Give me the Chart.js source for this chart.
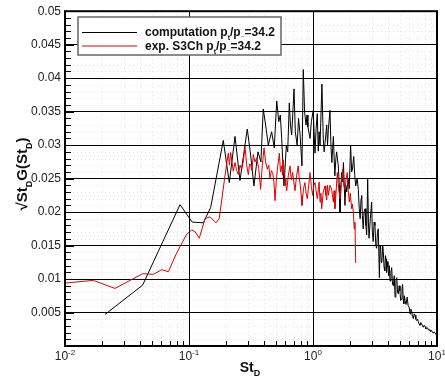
<!DOCTYPE html>
<html>
<head>
<meta charset="utf-8">
<script src="https://cdn.jsdelivr.net/npm/chart.js@4/dist/chart.umd.min.js"></script>
<style>
  html, body { margin: 0; padding: 0; background: #fff; }
  canvas { display: block; }
</style>
</head>
<body>
<canvas id="myChart" width="445" height="385"></canvas>
<script>
// computation, p_t/p_inf = 34.2
const compSt = [
    0.021, 0.0423, 0.0846, 0.1063, 0.1304, 0.1496, 0.189, 0.2113, 0.235, 0.2576,
    0.295, 0.312, 0.334, 0.36, 0.38, 0.397, 0.415, 0.436, 0.464, 0.487,
    0.510, 0.530, 0.545, 0.559, 0.583, 0.61, 0.625, 0.644, 0.658, 0.673,
    0.703, 0.72, 0.745, 0.765, 0.785, 0.815, 0.835, 0.855, 0.879, 0.895,
    0.91, 0.946, 0.97, 1.005, 1.02, 1.038, 1.06, 1.083, 1.103, 1.12,
    1.14, 1.18, 1.21, 1.23, 1.25, 1.29, 1.31, 1.33, 1.37, 1.395,
    1.42, 1.44, 1.46, 1.50, 1.53, 1.55, 1.60, 1.63, 1.65, 1.70,
    1.73, 1.76, 1.81, 1.84, 1.87, 1.92, 1.96, 2.01, 2.05, 2.08,
    2.13, 2.17, 2.21, 2.27, 2.32, 2.36, 2.40, 2.44, 2.47, 2.50,
    2.54, 2.58, 2.63, 2.67, 2.71, 2.76, 2.80, 2.83, 2.90, 2.97,
    3.01, 3.06, 3.11, 3.16, 3.21, 3.26, 3.31, 3.36, 3.43, 3.47,
    3.51, 3.55, 3.60, 3.65, 3.69, 3.74, 3.79, 3.84, 3.88, 3.92,
    3.96, 4.02, 4.07, 4.12, 4.18, 4.25, 4.31, 4.38, 4.45, 4.52,
    4.59, 4.66, 4.74, 4.81, 4.88, 4.95, 5.03, 5.09, 5.15, 5.22,
    5.28, 5.34, 5.40, 5.46, 5.52, 5.63, 5.75, 5.85, 5.96, 6.06,
    6.15, 6.25, 6.34, 6.44, 6.55, 6.65, 6.75, 6.86, 6.96, 7.07,
    7.18, 7.29, 7.40, 7.52, 7.64, 7.76, 7.88, 8.01, 8.13, 8.26,
    8.39, 8.52, 8.65, 8.79, 8.92, 9.06, 9.20, 9.34, 9.50, 9.64,
    9.80, 9.95];
const compVal = [
    0.0047, 0.0091, 0.0211, 0.0185, 0.0184, 0.0207, 0.0307, 0.0244, 0.0313, 0.0247,
    0.0324, 0.0290, 0.0239, 0.0290, 0.0275, 0.0354, 0.0330, 0.0300, 0.0320, 0.0296,
    0.0366, 0.0335, 0.0345, 0.0310, 0.0239, 0.0300, 0.0290, 0.0363, 0.0330, 0.0315,
    0.0384, 0.0320, 0.0300, 0.0340, 0.0318, 0.0269, 0.0413, 0.0350, 0.0330, 0.0345,
    0.0327, 0.0310, 0.0335, 0.0352, 0.0320, 0.0288, 0.0325, 0.0347, 0.0291, 0.0320,
    0.0300, 0.0391, 0.0310, 0.0290, 0.0303, 0.0330, 0.0300, 0.0323, 0.0352, 0.0300,
    0.0274, 0.0295, 0.0313, 0.0254, 0.0280, 0.0290, 0.0269, 0.0240, 0.0200, 0.0259,
    0.0245, 0.0274, 0.0210, 0.0240, 0.0230, 0.0249, 0.0235, 0.0300, 0.0260, 0.0264,
    0.0283, 0.0255, 0.0239, 0.0250, 0.0234, 0.0205, 0.0190, 0.0220, 0.0225, 0.0195,
    0.0175, 0.0200, 0.0205, 0.0180, 0.0166, 0.0249, 0.0185, 0.0161, 0.0190, 0.0215,
    0.0170, 0.0156, 0.0185, 0.0180, 0.0150, 0.0146, 0.0170, 0.0175, 0.0102, 0.0150,
    0.0146, 0.0125, 0.0128, 0.0150, 0.0141, 0.0118, 0.0112, 0.0135, 0.0130, 0.0110,
    0.0126, 0.0118, 0.0105, 0.0120, 0.0097, 0.0110, 0.0117, 0.0092, 0.0090, 0.0105,
    0.0073, 0.0098, 0.0102, 0.0080, 0.0078, 0.0090, 0.0082, 0.0068, 0.0070, 0.0085,
    0.0092, 0.0070, 0.0063, 0.0075, 0.0068, 0.0062, 0.0073, 0.0060, 0.0058, 0.0048,
    0.0055, 0.0052, 0.0044, 0.0041, 0.0048, 0.0046, 0.0040, 0.0038, 0.0040, 0.0036,
    0.0033, 0.0031, 0.0035, 0.0033, 0.0030, 0.0028, 0.0031, 0.0029, 0.0026, 0.0026,
    0.0027, 0.0024, 0.0025, 0.0022, 0.0024, 0.0023, 0.0020, 0.0020, 0.0021, 0.0019,
    0.0018, 0.0016];

// experiment S3Ch, p_t/p_inf = 34.2
const expSt = [
    0.01, 0.0169, 0.0253, 0.0423, 0.0515, 0.0603, 0.0681, 0.0796, 0.0958, 0.1051,
    0.1116, 0.121, 0.1346, 0.1478, 0.165, 0.1752, 0.195, 0.2075, 0.212, 0.2168,
    0.2275, 0.235, 0.242, 0.25, 0.258, 0.266, 0.274, 0.2828, 0.292, 0.301,
    0.308, 0.315, 0.322, 0.330, 0.340, 0.3516, 0.365, 0.378, 0.39, 0.403,
    0.415, 0.428, 0.44, 0.450, 0.462, 0.473, 0.484, 0.494, 0.505, 0.515,
    0.525, 0.535, 0.547, 0.559, 0.567, 0.575, 0.585, 0.595, 0.604, 0.614,
    0.633, 0.653, 0.668, 0.685, 0.70, 0.716, 0.738, 0.760, 0.775, 0.79,
    0.803, 0.815, 0.838, 0.861, 0.880, 0.900, 0.923, 0.946, 0.97, 0.994,
    1.015, 1.038, 1.06, 1.083, 1.104, 1.12, 1.14, 1.157, 1.175, 1.21,
    1.25, 1.27, 1.29, 1.31, 1.33, 1.37, 1.415, 1.44, 1.46, 1.48,
    1.504, 1.535, 1.57, 1.61, 1.651, 1.69, 1.737, 1.77, 1.81, 1.85,
    1.89, 1.925, 1.963, 2.00, 2.05, 2.08, 2.114, 2.15, 2.18, 2.21];
const expVal = [
    0.0094, 0.0098, 0.0086, 0.0108, 0.0107, 0.0114, 0.0111, 0.0139, 0.0167, 0.0173,
    0.0171, 0.0161, 0.0190, 0.0193, 0.0184, 0.0190, 0.0254, 0.0288, 0.0270, 0.0289,
    0.0261, 0.0274, 0.0262, 0.0256, 0.0270, 0.0264, 0.0275, 0.0298, 0.0270, 0.0256,
    0.0272, 0.0270, 0.0262, 0.0286, 0.0275, 0.0281, 0.0265, 0.0234, 0.0270, 0.0296,
    0.0275, 0.0264, 0.0270, 0.0251, 0.0262, 0.0259, 0.0245, 0.0217, 0.0245, 0.0262,
    0.0275, 0.0288, 0.0260, 0.0269, 0.0255, 0.0278, 0.0262, 0.0250, 0.0240, 0.0232,
    0.0255, 0.0269, 0.0248, 0.0259, 0.0245, 0.0232, 0.0255, 0.0269, 0.0250, 0.0240,
    0.0225, 0.0210, 0.0235, 0.0244, 0.0228, 0.0220, 0.0240, 0.0259, 0.0238, 0.0225,
    0.0240, 0.0244, 0.0232, 0.0220, 0.0234, 0.0245, 0.0215, 0.0228, 0.0205, 0.0230,
    0.0239, 0.0225, 0.0218, 0.0240, 0.0225, 0.0240, 0.0234, 0.0222, 0.0215, 0.0232,
    0.0205, 0.0230, 0.0259, 0.0235, 0.0220, 0.0245, 0.0264, 0.0240, 0.0234, 0.0250,
    0.0259, 0.0232, 0.0215, 0.0228, 0.0205, 0.0212, 0.0200, 0.0175, 0.0185, 0.0124];

const xDecades = [0.01, 0.1, 1, 10];
const xExponents = ['-2', '-1', '0', '1'];

const FONT = '"Liberation Sans", Arial, Helvetica, sans-serif';
const RED = 'rgb(220, 0, 0)';

function pairs(xs, ys) {
    return xs.map((x, i) => ({ x: x, y: ys[i] }));
}

// text runs: [text, isSub, drop]
function richWidth(ctx, parts, size) {
    let w = 0;
    parts.forEach(p => {
        ctx.font = 'bold ' + (p[1] ? Math.round(size * 0.62) : size) + 'px ' + FONT;
        w += ctx.measureText(p[0]).width;
    });
    return w;
}

function drawRich(ctx, parts, x, y, size) {
    let cx = x;
    parts.forEach(p => {
        ctx.font = 'bold ' + (p[1] ? Math.round(size * 0.62) : size) + 'px ' + FONT;
        const drop = p[1] ? (p[2] !== undefined ? p[2] : size * 0.3) : 0;
        ctx.fillText(p[0], cx, y + drop);
        cx += ctx.measureText(p[0]).width;
    });
}

const framePlugin = {
    id: 'frame',
    // faint dotted minor grid, under the solid major grid
    beforeDraw(chart) {
        const { ctx, chartArea: a, scales: { x, y } } = chart;
        ctx.save();
        ctx.strokeStyle = '#e2e2e2';
        ctx.lineWidth = 1;
        ctx.setLineDash([1, 3]);
        ctx.beginPath();
        for (let k = 1; k < 50; k++) {
            if (k % 5 === 0) continue;
            const py = Math.round(y.getPixelForValue(k / 1000)) + 0.5;
            ctx.moveTo(a.left, py);
            ctx.lineTo(a.right, py);
        }
        xDecades.slice(0, 3).forEach(d => {
            for (let m = 2; m < 10; m++) {
                const px = Math.round(x.getPixelForValue(d * m)) + 0.5;
                ctx.moveTo(px, a.top);
                ctx.lineTo(px, a.bottom);
            }
        });
        ctx.stroke();
        ctx.restore();
    },
    afterDraw(chart) {
        const { ctx, chartArea: a, scales: { x, y } } = chart;
        ctx.save();
        ctx.setLineDash([]);

        // inward tick marks
        ctx.strokeStyle = '#000';
        ctx.lineWidth = 1;
        ctx.beginPath();
        for (let k = 1; k < 50; k++) {
            const py = Math.round(y.getPixelForValue(k / 1000)) + 0.5;
            ctx.moveTo(a.left, py);
            ctx.lineTo(a.left + (k % 5 === 0 ? 9 : 6), py);
        }
        xDecades.forEach((d, i) => {
            const px = Math.round(x.getPixelForValue(d)) + 0.5;
            ctx.moveTo(px, a.bottom);
            ctx.lineTo(px, a.bottom - 8);
            if (i === xDecades.length - 1) return;
            for (let m = 2; m < 10; m++) {
                const mx = Math.round(x.getPixelForValue(d * m)) + 0.5;
                ctx.moveTo(mx, a.bottom);
                ctx.lineTo(mx, a.bottom - 5);
            }
        });
        ctx.stroke();

        // frame
        ctx.lineWidth = 2;
        ctx.strokeRect(a.left, a.top, a.right - a.left, a.bottom - a.top);

        // x tick labels 10^n
        ctx.fillStyle = '#222';
        ctx.textBaseline = 'alphabetic';
        ctx.textAlign = 'left';
        xDecades.forEach((d, i) => {
            ctx.font = '12px ' + FONT;
            const bw = ctx.measureText('10').width;
            ctx.font = '8px ' + FONT;
            const ew = ctx.measureText(xExponents[i]).width;
            const left = x.getPixelForValue(d) - (bw + ew) / 2;
            ctx.font = '12px ' + FONT;
            ctx.fillText('10', left, 360);
            ctx.font = '8px ' + FONT;
            ctx.fillText(xExponents[i], left + bw, 355);
        });

        // axis titles
        ctx.fillStyle = '#111';
        const xTitle = [['St', false], ['D', true]];
        const xw = richWidth(ctx, xTitle, 14);
        drawRich(ctx, xTitle, (a.left + a.right) / 2 - xw / 2 - 1, 372, 14);

        const yTitle = [['\u221ASt', false], ['D', true], ['G(St', false], ['D', true], [')', false]];
        ctx.save();
        ctx.translate(27, 174);
        ctx.rotate(-Math.PI / 2);
        const yw = richWidth(ctx, yTitle, 15);
        drawRich(ctx, yTitle, -yw / 2, 0, 15);
        ctx.restore();

        // legend box
        const lx = 78, ly = 17, lw = 203, lh = 38;
        ctx.fillStyle = '#fff';
        ctx.fillRect(lx, ly, lw, lh);
        ctx.strokeStyle = '#666';
        ctx.lineWidth = 1.5;
        ctx.strokeRect(lx, ly, lw, lh);

        ctx.lineWidth = 1;
        ctx.strokeStyle = '#000';
        ctx.beginPath();
        ctx.moveTo(82, 32.5);
        ctx.lineTo(137, 32.5);
        ctx.stroke();
        ctx.strokeStyle = 'rgb(226, 90, 90)';
        ctx.lineWidth = 1.5;
        ctx.beginPath();
        ctx.moveTo(82, 46);
        ctx.lineTo(137, 46);
        ctx.stroke();

        ctx.fillStyle = '#111';
        drawRich(ctx, [['computation p', false], ['t', true], ['/p', false], ['_', true, 0], ['=34.2', false]], 145, 36, 12);
        drawRich(ctx, [['exp. S3Ch p', false], ['t', true], ['/p', false], ['_', true, 0], ['=34.2', false]], 145, 50, 12);

        ctx.restore();
    }
};

const data = {
    datasets: [{
        label: 'exp. S3Ch',
        data: pairs(expSt, expVal),
        borderColor: RED,
        borderWidth: 1,
        pointRadius: 0,
        tension: 0,
        fill: false
    }, {
        label: 'computation',
        data: pairs(compSt, compVal),
        borderColor: '#000',
        borderWidth: 1,
        pointRadius: 0,
        tension: 0,
        fill: false
    }]
};

const config = {
    type: 'line',
    data: data,
    options: {
        responsive: false,
        devicePixelRatio: 1,
        animation: false,
        layout: { padding: { top: 6, right: 8, left: 0, bottom: 0 } },
        plugins: {
            legend: { display: false },
            tooltip: { enabled: false }
        },
        scales: {
            x: {
                type: 'logarithmic',
                min: 0.01,
                max: 10,
                afterBuildTicks(scale) {
                    scale.ticks = xDecades.map(v => ({ value: v, major: true }));
                },
                afterFit(scale) { scale.height = 39; },
                ticks: { display: false },
                grid: { color: '#000', lineWidth: 1, drawTicks: false },
                border: { display: false }
            },
            y: {
                type: 'linear',
                min: 0,
                max: 0.05,
                afterFit(scale) { scale.width = 65; },
                ticks: {
                    stepSize: 0.005,
                    padding: 4,
                    color: '#222',
                    font: { family: FONT, size: 12 },
                    callback: v => v === 0 ? '' : String(+v.toFixed(3))
                },
                grid: { color: '#000', lineWidth: 1, drawTicks: false },
                border: { display: false }
            }
        }
    },
    plugins: [framePlugin]
};

let myChart = new Chart(document.getElementById('myChart'), config);
</script>
</body>
</html>
